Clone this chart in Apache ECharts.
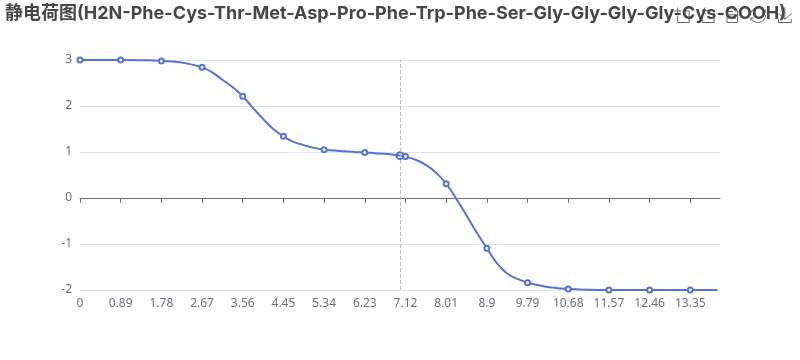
<!DOCTYPE html>
<html>
<head>
<meta charset="utf-8">
<style>
	html, body { margin: 0; padding: 0; background: #fff; }
	#chart { width: 800px; height: 360px; }
</style>
<script src="https://cdn.jsdelivr.net/npm/echarts@6/dist/echarts.min.js"></script>
</head>
<body>
<div id="chart"></div>
<script>
const chartTitle = "静电荷图(H2N-Phe-Cys-Thr-Met-Asp-Pro-Phe-Trp-Phe-Ser-Gly-Gly-Gly-Gly-Cys-COOH)";

// values, the points between ticks only shape the curve
const phValues = [
	0, 0.445, 0.89, 1.335, 1.78, 2.225, 2.67, 2.8925, 3.115, 3.3375, 3.56, 3.7825, 4.005, 4.2275,
	4.45, 4.6725, 4.895, 5.1175, 5.34, 5.5625, 5.785, 6.0075, 6.23, 6.4525, 6.675, 6.8975, 7.12,
	7.3425, 7.565, 7.7875, 8.01, 8.2325, 8.455, 8.6775, 8.9, 9.1225, 9.345, 9.5675, 9.79, 10.0125,
	10.235, 10.4575, 10.68, 11.125, 11.57, 12.015, 12.46, 12.905, 13.35, 13.94,
];
const netCharge = [
	3, 3, 3, 2.995, 2.98, 2.945, 2.84, 2.73, 2.57, 2.41, 2.21, 1.96, 1.72, 1.5,
	1.34, 1.22, 1.15, 1.09, 1.05, 1.03, 1.015, 1, 0.99, 0.975, 0.96, 0.935, 0.9,
	0.83, 0.72, 0.55, 0.31, -0.02, -0.38, -0.75, -1.09, -1.42, -1.64, -1.76, -1.84, -1.89,
	-1.935, -1.96, -1.98, -1.995, -2, -2, -2, -2, -2, -2,
];

// x positions that have a tick, a label and a marker
const xTicks = [0, 0.89, 1.78, 2.67, 3.56, 4.45, 5.34, 6.23, 7.12, 8.01, 8.9, 9.79, 10.68, 11.57, 12.46, 13.35];

// hovered position in the picture
const hoverPh = 7;
const hoverCharge = 0.92;

const lineColor = "#5572d6";
const chart = echarts.init(document.getElementById("chart"), null, { renderer: "canvas" });

const seriesData = phValues.map((ph, i) => {
	const marked = xTicks.includes(ph);
	return {
		value: [ph, netCharge[i]],
		symbol: marked ? "emptyCircle" : "none",
		symbolSize: marked ? 5 : 0,
	};
});

chart.setOption({
	animation: false,
	color: [lineColor],
	textStyle: { fontFamily: "'Noto Sans', 'Noto Sans CJK SC', sans-serif" },
	title: {
		text: chartTitle,
		left: 0,
		top: 0,
		textStyle: {
			color: "#464646",
			fontSize: 18,
			fontWeight: "bold",
			fontFamily: "Inter, 'Noto Sans CJK SC', sans-serif",
		},
	},
	toolbox: {
		right: -9,
		top: -10,
		itemSize: 15,
		itemGap: 8,
		iconStyle: { borderColor: "#666" },
		feature: {
			dataZoom: {},
			dataView: {},
			restore: {},
			saveAsImage: {},
		},
	},
	// grid: 80px each side, y axis 46px per unit
	grid: { left: 80, right: 80, top: 60, bottom: 70, outerBoundsMode: "none" },
	xAxis: {
		type: "value",
		min: 0,
		max: 14,
		splitLine: { show: false },
		axisLine: { show: true, onZero: true, lineStyle: { color: "#6E7079" } },
		axisTick: { show: true, customValues: xTicks, lineStyle: { color: "#6E7079" } },
		axisLabel: { customValues: xTicks, margin: 8, color: "#6E7079", fontSize: 12 },
	},
	yAxis: {
		type: "value",
		min: -2,
		max: 3,
		interval: 1,
		axisLine: { show: false },
		axisTick: { show: false },
		axisLabel: { color: "#6E7079", fontSize: 12 },
		splitLine: { lineStyle: { color: "#E0E6F1" } },
	},
	series: [
		{
			type: "line",
			smooth: true,
			showSymbol: true,
			lineStyle: { width: 2, color: lineColor },
			itemStyle: { color: lineColor, borderWidth: 2 },
			data: seriesData,
			// pointer line of the hovered position
			markLine: {
				silent: true,
				symbol: "none",
				animation: false,
				label: { show: false },
				lineStyle: { color: "#B9BEC9", type: "dashed", width: 1 },
				data: [{ xAxis: hoverPh }],
			},
		},
		// enlarged marker of the hovered position
		{
			type: "scatter",
			silent: true,
			symbol: "emptyCircle",
			symbolSize: 7,
			itemStyle: { color: lineColor, borderWidth: 2, opacity: 1 },
			data: [[hoverPh, hoverCharge]],
		},
	],
});
</script>
</body>
</html>
